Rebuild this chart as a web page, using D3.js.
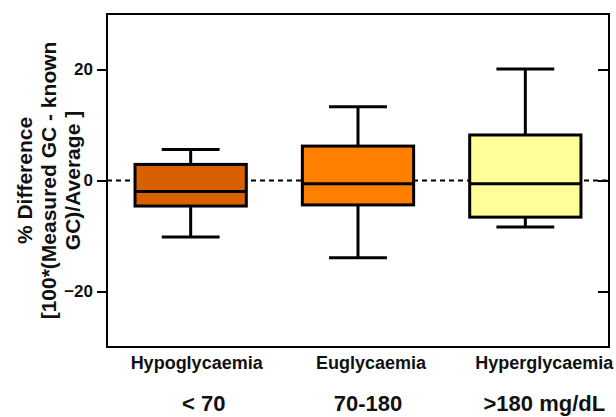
<!DOCTYPE html>
<html>
<head>
<meta charset="utf-8">
<script src="https://cdn.jsdelivr.net/npm/d3@7"></script>
<style>
  html, body { margin: 0; padding: 0; background: #fff; }
  svg { display: block; }
  text { font-family: "Liberation Sans", Arial, sans-serif; font-weight: bold; fill: #111; }
</style>
</head>
<body>
<svg id="chart" width="616" height="417"></svg>
<script>
// ---- data ----
const categories = ["Hypoglycaemia", "Euglycaemia", "Hyperglycaemia"];
const ranges = ["< 70", "70-180", ">180 mg/dL"];
const whiskerLow = [-10.2, -13.9, -8.4];
const q1 = [-4.6, -4.4, -6.6];
const median = [-2.0, -0.6, -0.6];
const q3 = [2.9, 6.2, 8.2];
const whiskerHigh = [5.6, 13.3, 20.1];
const yTicks = [-20, 0, 20];
const yTitleLines = ["% Difference", "[100*(Measured GC - known", "GC)/Average ]"];

// ---- styles ----
const fills = ["#D96000", "#FF8000", "#FFFF99"];
const labelDx = [6, 13, 19];
const rangeDx = [13, 10, 19];

const svg = d3.select("#chart");
const m = { left: 107, right: 609, top: 14, bottom: 347 };

const x = d3.scaleBand().domain(categories).range([m.left, m.right])
  .paddingInner(0.335).paddingOuter(0.1675);
const y = d3.scaleLinear().domain([-30, 30]).range([m.bottom, m.top]);

// zero reference line
svg.append("line")
  .attr("x1", m.left).attr("x2", m.right)
  .attr("y1", y(0)).attr("y2", y(0))
  .attr("stroke", "#000").attr("stroke-width", 2)
  .attr("stroke-dasharray", "5,4");

// boxes
const data = categories.map((c, i) => ({
  c, i, lo: whiskerLow[i], q1: q1[i], med: median[i], q3: q3[i], hi: whiskerHigh[i]
}));
const bw = x.bandwidth();
const capW = bw * 0.52;
const g = svg.append("g").selectAll("g").data(data).join("g");

g.append("line") // upper whisker
  .attr("x1", d => x(d.c) + bw / 2).attr("x2", d => x(d.c) + bw / 2)
  .attr("y1", d => y(d.q3)).attr("y2", d => y(d.hi))
  .attr("stroke", "#000").attr("stroke-width", 3);
g.append("line") // lower whisker
  .attr("x1", d => x(d.c) + bw / 2).attr("x2", d => x(d.c) + bw / 2)
  .attr("y1", d => y(d.q1)).attr("y2", d => y(d.lo))
  .attr("stroke", "#000").attr("stroke-width", 3);
g.append("line") // upper cap
  .attr("x1", d => x(d.c) + bw / 2 - capW / 2).attr("x2", d => x(d.c) + bw / 2 + capW / 2)
  .attr("y1", d => y(d.hi)).attr("y2", d => y(d.hi))
  .attr("stroke", "#000").attr("stroke-width", 3);
g.append("line") // lower cap
  .attr("x1", d => x(d.c) + bw / 2 - capW / 2).attr("x2", d => x(d.c) + bw / 2 + capW / 2)
  .attr("y1", d => y(d.lo)).attr("y2", d => y(d.lo))
  .attr("stroke", "#000").attr("stroke-width", 3);
g.append("rect")
  .attr("x", d => x(d.c)).attr("width", bw)
  .attr("y", d => y(d.q3)).attr("height", d => y(d.q1) - y(d.q3))
  .attr("fill", d => fills[d.i]).attr("stroke", "#000").attr("stroke-width", 3);
g.append("line") // median
  .attr("x1", d => x(d.c)).attr("x2", d => x(d.c) + bw)
  .attr("y1", d => y(d.med)).attr("y2", d => y(d.med))
  .attr("stroke", "#000").attr("stroke-width", 3);

// frame
svg.append("rect")
  .attr("x", m.left).attr("y", m.top)
  .attr("width", m.right - m.left).attr("height", m.bottom - m.top)
  .attr("fill", "none").attr("stroke", "#000").attr("stroke-width", 2);

// left axis
const yAxis = d3.axisLeft(y).tickValues(yTicks).tickSize(10).tickPadding(4).tickFormat(d3.format("d"));
const ya = svg.append("g").attr("transform", `translate(${m.left},0)`).call(yAxis);
ya.select(".domain").remove();
ya.selectAll(".tick line").attr("stroke", "#000").attr("stroke-width", 2);
ya.selectAll(".tick text").attr("font-size", 17).style("font-family", "'Liberation Sans', Arial, sans-serif")
  .style("font-weight", "bold").attr("fill", "#111");

// right axis (inward ticks)
const yr = svg.append("g").attr("transform", `translate(${m.right},0)`)
  .call(d3.axisLeft(y).tickValues(yTicks).tickSize(11).tickFormat(""));
yr.select(".domain").remove();
yr.selectAll(".tick line").attr("stroke", "#000").attr("stroke-width", 2);

// x labels
svg.append("g").selectAll("text").data(categories).join("text")
  .attr("x", (d, i) => x(d) + bw / 2 + labelDx[i]).attr("y", 369)
  .attr("text-anchor", "middle").attr("font-size", 18)
  .text(d => d);
svg.append("g").selectAll("text").data(ranges).join("text")
  .attr("x", (d, i) => x(categories[i]) + bw / 2 + rangeDx[i]).attr("y", 411)
  .attr("text-anchor", "middle").attr("font-size", 22)
  .text(d => d);

// y title
const cy = (m.top + m.bottom) / 2;
const baselines = [32, 56, 80];
svg.append("g").selectAll("text").data(yTitleLines).join("text")
  .attr("transform", (d, i) => `translate(${baselines[i]},${cy}) rotate(-90)`)
  .attr("text-anchor", "middle").attr("font-size", 21)
  .text(d => d);
</script>
</body>
</html>
